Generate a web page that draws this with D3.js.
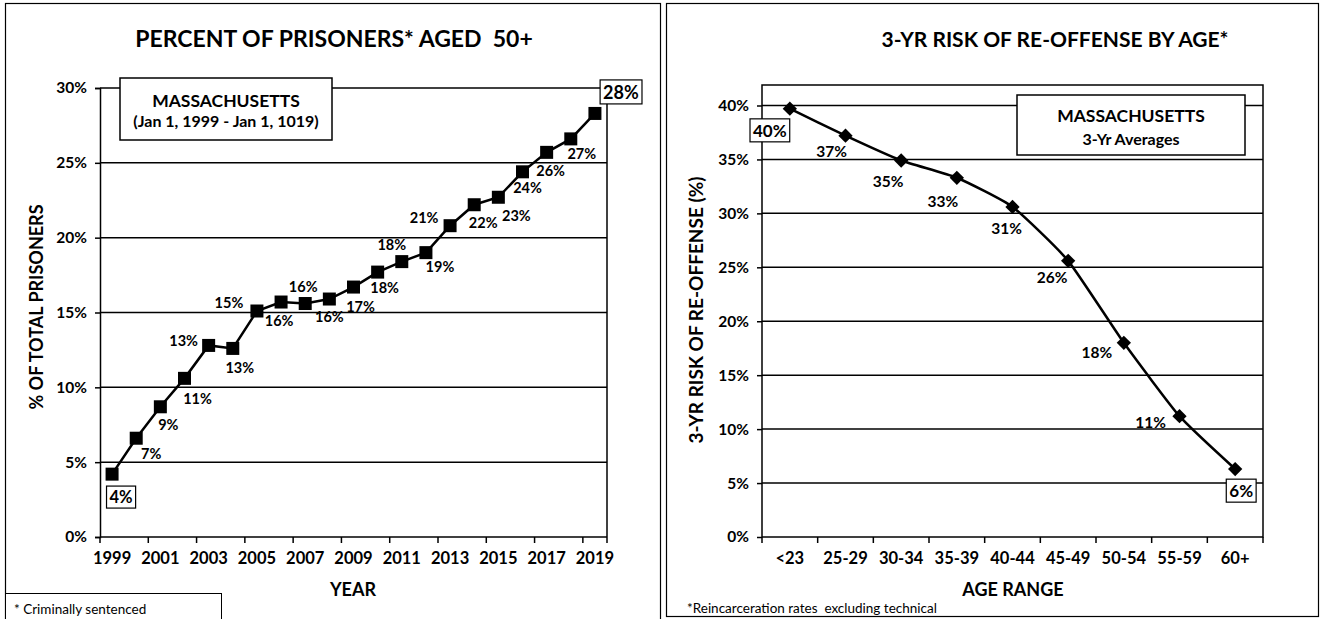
<!DOCTYPE html>
<html>
<head>
<meta charset="utf-8">
<script src="https://cdn.jsdelivr.net/npm/d3@7/dist/d3.min.js"></script>
<style>
  html, body { margin: 0; padding: 0; background: #fff; }
  svg { display: block; font-family: Lato, "Open Sans", sans-serif; }
  text { white-space: pre; }
</style>
</head>
<body>
<svg id="chart" width="1321" height="619"></svg>
<script>
// ---------- DATA ----------
const years = ["1999","2000","2001","2002","2003","2004","2005","2006","2007","2008","2009",
               "2010","2011","2012","2013","2014","2015","2016","2017","2018","2019"];
const yearTickLabels = ["1999","2001","2003","2005","2007","2009","2011","2013","2015","2017","2019"];
const pctAged50 = [4.2, 6.6, 8.7, 10.6, 12.8, 12.6, 15.1, 15.7, 15.6, 15.9, 16.7,
                   17.7, 18.4, 19.0, 20.8, 22.2, 22.7, 24.4, 25.7, 26.6, 28.3];
const leftYTicks = [0, 5, 10, 15, 20, 25, 30];

const ageRanges = ["<23","25-29","30-34","35-39","40-44","45-49","50-54","55-59","60+"];
const riskReoffense = [39.7, 37.2, 34.9, 33.3, 30.6, 25.6, 18.0, 11.2, 6.3];
const rightYTicks = [0, 5, 10, 15, 20, 25, 30, 35, 40];

// ---------- LABEL PLACEMENT (offsets from marker) ----------
const leftLabelOffsets = [[9,23],[15,16],[8,18],[13,20],[-25,-5],[7,19],[-28,-8],[-2,19],[-2,-17],[0,18],[7,20],
                          [7,16],[-10,-17],[14,14],[-26,-8],[9,18],[18,19],[5,16],[4,18],[11,15],[26,-21]];
const leftBoxed = [0, 20];
const rightLabelOffsets = [[-20,22],[-14,16],[-13,21],[-14,24],[-6,22],[-16,17],[-27,10],[-29,6],[6,22]];
const rightBoxed = [0, 8];

const svg = d3.select("#chart");
const fmt = v => Math.round(v) + "%";

// ---------- PANEL BORDERS ----------
svg.append("rect").attr("x", 5.5).attr("y", 3.5).attr("width", 655).attr("height", 630)
  .attr("fill", "none").attr("stroke", "#000").attr("stroke-width", 1.2);
svg.append("rect").attr("x", 666.5).attr("y", 3.5).attr("width", 652).attr("height", 613)
  .attr("fill", "none").attr("stroke", "#000").attr("stroke-width", 1.2);

function drawBoxLabel(g, x, y, text, size) {
  const t = g.append("text").attr("x", x).attr("y", y).attr("dy", "0.36em")
    .attr("text-anchor", "middle").attr("font-size", size).attr("font-weight", 700).text(text);
  const bb = t.node().getBBox();
  g.insert("rect", () => t.node())
    .attr("x", bb.x - 3).attr("y", bb.y - 1).attr("width", bb.width + 6).attr("height", bb.height + 2)
    .attr("fill", "#fff").attr("stroke", "#000").attr("stroke-width", 1.2);
}

// ---------- LEFT CHART ----------
(function () {
  const L = 100, R = 607, T = 88, B = 537;
  const x = d3.scaleBand().domain(years).range([L, R]);
  const y = d3.scaleLinear().domain([0, 30]).range([B, T]);
  const g = svg.append("g");

  g.append("text").attr("x", 334).attr("y", 47).attr("text-anchor", "middle")
    .attr("font-size", 23).attr("font-weight", 700)
    .text("PERCENT OF PRISONERS* AGED  50+");

  g.append("g").selectAll("line").data(leftYTicks.slice(1)).join("line")
    .attr("x1", L).attr("x2", R).attr("y1", d => y(d)).attr("y2", d => y(d))
    .attr("stroke", "#000").attr("stroke-width", 1.5);
  g.append("line").attr("x1", R).attr("x2", R).attr("y1", T).attr("y2", B)
    .attr("stroke", "#000").attr("stroke-width", 1.5);

  const ya = d3.axisLeft(y).tickValues(leftYTicks).tickFormat(d => d + "%").tickSize(5).tickPadding(8);
  const yg = g.append("g").attr("transform", `translate(${L},0)`).call(ya);
  yg.select(".domain").attr("stroke-width", 1.5);
  yg.selectAll(".tick line").attr("stroke-width", 1.5);
  yg.selectAll("text").attr("font-size", 15.5).attr("font-weight", 700).attr("fill", "#000").attr("font-family", "Lato, sans-serif");

  const xg = g.append("g").attr("transform", `translate(0,${B})`);
  xg.append("line").attr("x1", L).attr("x2", R).attr("stroke", "#000").attr("stroke-width", 1.5);
  const boundaries = years.filter((d, i) => i % 2 === 0).map(d => x(d)).concat([R]);
  xg.selectAll("line.tk").data(boundaries).join("line").attr("class", "tk")
    .attr("x1", d => d).attr("x2", d => d).attr("y1", 0).attr("y2", 6)
    .attr("stroke", "#000").attr("stroke-width", 1.5);
  xg.selectAll("text").data(yearTickLabels).join("text")
    .attr("x", d => x(d) + x.bandwidth() / 2).attr("y", 27)
    .attr("text-anchor", "middle").attr("font-size", 16.5).attr("font-weight", 700).text(d => d);

  g.append("text").attr("x", 353).attr("y", 596).attr("text-anchor", "middle")
    .attr("font-size", 18).attr("font-weight", 700).text("YEAR");
  g.append("text").attr("transform", "translate(43,307) rotate(-90)").attr("text-anchor", "middle")
    .attr("font-size", 18).attr("font-weight", 700).text("% OF TOTAL PRISONERS");

  g.append("rect").attr("x", 120).attr("y", 78).attr("width", 212).attr("height", 62)
    .attr("fill", "#fff").attr("stroke", "#000").attr("stroke-width", 1.5);
  g.append("text").attr("x", 226).attr("y", 107).attr("text-anchor", "middle")
    .attr("font-size", 17.5).attr("font-weight", 700).text("MASSACHUSETTS");
  g.append("text").attr("x", 226).attr("y", 127).attr("text-anchor", "middle")
    .attr("font-size", 16).attr("font-weight", 700).text("(Jan 1, 1999 - Jan 1, 1019)");

  const cx = (d, i) => x(years[i]) + x.bandwidth() / 2;
  const line = d3.line().x((d, i) => cx(d, i)).y(d => y(d));
  g.append("path").datum(pctAged50).attr("d", line).attr("fill", "none")
    .attr("stroke", "#000").attr("stroke-width", 2.5);
  g.selectAll("rect.mk").data(pctAged50).join("rect").attr("class", "mk")
    .attr("x", (d, i) => cx(d, i) - 6.5).attr("y", d => y(d) - 6.5)
    .attr("width", 13).attr("height", 13).attr("fill", "#000");

  pctAged50.forEach((d, i) => {
    const px = cx(d, i) + leftLabelOffsets[i][0], py = y(d) + leftLabelOffsets[i][1];
    if (leftBoxed.includes(i)) {
      drawBoxLabel(g, px, py, fmt(d), i === 20 ? 18 : 16.5);
    } else {
      g.append("text").attr("x", px).attr("y", py).attr("dy", "0.36em").attr("text-anchor", "middle")
        .attr("font-size", 14.5).attr("font-weight", 700).text(fmt(d));
    }
  });

  g.append("rect").attr("x", 5.5).attr("y", 593.5).attr("width", 216).attr("height", 40)
    .attr("fill", "#fff").attr("stroke", "#000").attr("stroke-width", 1);
  g.append("text").attr("x", 14).attr("y", 614).attr("font-size", 13.5).text("* Criminally sentenced");
})();

// ---------- RIGHT CHART ----------
(function () {
  const L = 762, R = 1263, T = 85, B = 537;
  const x = d3.scaleBand().domain(ageRanges).range([L, R]);
  const y = d3.scaleLinear().domain([0, 41.9]).range([B, T]);
  const g = svg.append("g");

  g.append("text").attr("x", 1055).attr("y", 47).attr("text-anchor", "middle")
    .attr("font-size", 21).attr("font-weight", 700).text("3-YR RISK OF RE-OFFENSE BY AGE*");

  g.append("g").selectAll("line").data(rightYTicks.slice(1)).join("line")
    .attr("x1", L).attr("x2", R).attr("y1", d => y(d)).attr("y2", d => y(d))
    .attr("stroke", "#000").attr("stroke-width", 1.5);
  g.append("rect").attr("x", L).attr("y", T).attr("width", R - L).attr("height", B - T)
    .attr("fill", "none").attr("stroke", "#000").attr("stroke-width", 1.5);

  const ya = d3.axisLeft(y).tickValues(rightYTicks).tickFormat(d => d + "%").tickSize(5).tickPadding(8);
  const yg = g.append("g").attr("transform", `translate(${L},0)`).call(ya);
  yg.select(".domain").remove();
  yg.selectAll(".tick line").attr("stroke-width", 1.5);
  yg.selectAll("text").attr("font-size", 15.5).attr("font-weight", 700).attr("fill", "#000").attr("font-family", "Lato, sans-serif");

  const xg = g.append("g").attr("transform", `translate(0,${B})`);
  const bnd = ageRanges.map(d => x(d)).concat([R]);
  xg.selectAll("line.tk").data(bnd).join("line").attr("class", "tk")
    .attr("x1", d => d).attr("x2", d => d).attr("y1", 0).attr("y2", 6)
    .attr("stroke", "#000").attr("stroke-width", 1.5);
  xg.selectAll("text").data(ageRanges).join("text")
    .attr("x", d => x(d) + x.bandwidth() / 2).attr("y", 27)
    .attr("text-anchor", "middle").attr("font-size", 16.5).attr("font-weight", 700).text(d => d);

  g.append("text").attr("x", 1013).attr("y", 596).attr("text-anchor", "middle")
    .attr("font-size", 18).attr("font-weight", 700).text("AGE RANGE");
  g.append("text").attr("transform", "translate(703,310) rotate(-90)").attr("text-anchor", "middle")
    .attr("font-size", 19).attr("font-weight", 700).text("3-YR RISK OF RE-OFFENSE (%)");

  g.append("rect").attr("x", 1017).attr("y", 95).attr("width", 228).attr("height", 60)
    .attr("fill", "#fff").attr("stroke", "#000").attr("stroke-width", 1.5);
  g.append("text").attr("x", 1131).attr("y", 122).attr("text-anchor", "middle")
    .attr("font-size", 17.5).attr("font-weight", 700).text("MASSACHUSETTS");
  g.append("text").attr("x", 1131).attr("y", 145).attr("text-anchor", "middle")
    .attr("font-size", 16).attr("font-weight", 700).text("3-Yr Averages");

  const cx = (d, i) => x(ageRanges[i]) + x.bandwidth() / 2;
  const line = d3.line().x((d, i) => cx(d, i)).y(d => y(d)).curve(d3.curveCardinal.tension(0.5));
  g.append("path").datum(riskReoffense).attr("d", line).attr("fill", "none")
    .attr("stroke", "#000").attr("stroke-width", 2.5);
  const sym = d3.symbol().type(d3.symbolDiamond2).size(130);
  g.selectAll("path.mk").data(riskReoffense).join("path").attr("class", "mk")
    .attr("transform", (d, i) => `translate(${cx(d, i)},${y(d)})`)
    .attr("d", sym).attr("fill", "#000");

  riskReoffense.forEach((d, i) => {
    const px = cx(d, i) + rightLabelOffsets[i][0], py = y(d) + rightLabelOffsets[i][1];
    if (rightBoxed.includes(i)) {
      drawBoxLabel(g, px, py, fmt(d), 17);
    } else {
      g.append("text").attr("x", px).attr("y", py).attr("dy", "0.36em").attr("text-anchor", "middle")
        .attr("font-size", 15.5).attr("font-weight", 700).text(fmt(d));
    }
  });

  g.append("text").attr("x", 687).attr("y", 613).attr("font-size", 13.5)
    .text("*Reincarceration rates  excluding technical");
})();
</script>
</body>
</html>
